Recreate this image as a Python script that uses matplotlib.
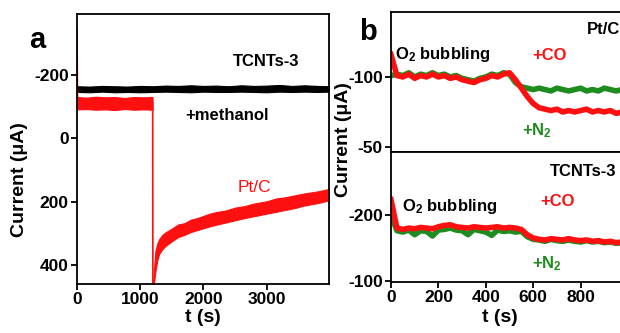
import matplotlib
matplotlib.use("Agg")
import matplotlib.pyplot as plt

plt.rcParams['font.family'] = ['Liberation Sans', 'DejaVu Sans']
plt.rcParams['font.weight'] = 'bold'
plt.rcParams['axes.unicode_minus'] = False
plt.rcParams['mathtext.fontset'] = 'custom'
plt.rcParams['mathtext.rm'] = 'Liberation Sans:bold'
plt.rcParams['mathtext.it'] = 'Liberation Sans:bold'
plt.rcParams['mathtext.bf'] = 'Liberation Sans:bold'

RED = '#ff1010'
GREEN = '#1e8c1e'

# ---- panel a data (current in uA, axis inverted) ----
a_black_t = [0, 200, 400, 600, 800, 1000, 1200, 1400, 1600, 1800, 2000, 2200,
             2400, 2600, 2800, 3000, 3200, 3400, 3600, 3800, 3985]
a_black_lo = [-164, -163, -165, -164, -163, -165, -164, -166, -165, -167, -165,
              -166, -164, -167, -165, -166, -168, -165, -167, -165, -164]
a_black_hi = [-146, -145, -147, -145, -146, -145, -146, -147, -146, -145, -147,
              -146, -146, -147, -146, -145, -147, -146, -147, -146, -147]

a_red_spike_t = [0, 8]
a_red_spike_v = [-345, -112]
a_red1_t = [5, 150, 300, 450, 600, 750, 900, 1050, 1195]
a_red1_lo = [-130, -128, -131, -129, -130, -127, -130, -129, -130]
a_red1_hi = [-91, -92, -90, -91, -89, -92, -90, -91, -90]
a_drop_t = [1197, 1200]
a_drop_v = [-112, 460]
a_red2_t = [1200, 1215, 1240, 1270, 1300, 1350, 1400, 1500, 1600, 1700, 1800,
            1900, 2000, 2100, 2200, 2350, 2500, 2650, 2800, 3000, 3150, 3300,
            3450, 3600, 3800, 3985]
a_red2_lo = [460, 420, 355, 332, 318, 305, 297, 285, 272, 268, 257,
             252, 245, 238, 233, 228, 219, 214, 206, 199, 190, 186,
             180, 174, 168, 160]
a_red2_hi = [460, 460, 420, 385, 365, 350, 340, 325, 312, 305, 296,
             290, 284, 278, 273, 266, 259, 252, 246, 238, 232, 226,
             220, 212, 205, 196]

# ---- panel b data, sampled every 25 s ----
b_t = list(range(0, 1001, 25))
b_top_red = [-116, -101, -100, -102, -99, -101, -100, -102, -100, -101, -99,
             -100, -98, -97, -96, -98, -99, -101, -100, -102, -103, -98,
             -92, -86, -81, -78, -77, -76, -77, -75, -76, -75, -76, -77,
             -75, -76, -75, -76, -74, -75, -75]
b_top_green = [-101, -102, -101, -103, -100, -102, -101, -103, -101, -102, -100,
               -101, -99, -98, -97, -99, -100, -102, -101, -103, -102, -96,
               -93, -92, -91, -92, -91, -90, -92, -91, -90, -91, -92, -90,
               -91, -90, -92, -91, -90, -91, -90]
b_bot_red = [-223, -180, -178, -180, -179, -181, -180, -179, -182, -184, -185,
             -182, -181, -180, -182, -181, -180, -181, -182, -180, -181, -180,
             -178, -170, -165, -163, -162, -164, -163, -162, -164, -162, -161,
             -162, -160, -161, -159, -160, -158, -159, -157]
b_bot_green = [-200, -176, -174, -177, -170, -176, -175, -168, -177, -178, -180,
               -177, -176, -170, -178, -176, -174, -169, -177, -175, -176, -174,
               -175, -167, -163, -162, -160, -163, -161, -160, -162, -160, -159,
               -161, -159, -160, -158, -159, -157, -158, -156]

W, H = 620, 333
fig = plt.figure(figsize=(W / 100, H / 100), dpi=100)


def box(l, t, r, b):
    return [l / W, 1 - b / H, (r - l) / W, (b - t) / H]


def px(x, y):
    return x / W, 1 - y / H


def style(ax):
    for s in ax.spines.values():
        s.set_linewidth(1.3)
    ax.tick_params(direction='out', length=4, width=1.3, labelsize=12.5, pad=2)


# panel a
ax = fig.add_axes(box(77, 14, 329, 284))
ax.fill_between(a_black_t, a_black_lo, a_black_hi, color='black', lw=0.8)
ax.plot(a_red_spike_t, a_red_spike_v, color=RED, lw=1.2)
ax.fill_between(a_red1_t, a_red1_lo, a_red1_hi, color=RED, lw=0.8)
ax.plot(a_drop_t, a_drop_v, color=RED, lw=1.2)
ax.fill_between(a_red2_t, a_red2_lo, a_red2_hi, color=RED, lw=0.8)
ax.set_xlim(0, 3985)
ax.set_ylim(460, -392)
ax.set_xticks([0, 1000, 2000, 3000])
ax.set_yticks([-200, 0, 200, 400])
style(ax)

# panel b top
bt = fig.add_axes(box(391, 12, 628, 152))
bt.plot(b_t, b_top_green, color=GREEN, lw=4)
bt.plot(b_t, b_top_red, color=RED, lw=4)
bt.set_xlim(0, 1000)
bt.set_ylim(-46.4, -146.4)
bt.set_yticks([-100, -50])
style(bt)
bt.tick_params(axis='x', bottom=False, labelbottom=False)

# panel b bottom
bb = fig.add_axes(box(391, 152, 628, 282))
bb.plot(b_t, b_bot_green, color=GREEN, lw=4)
bb.plot(b_t, b_bot_red, color=RED, lw=4)
bb.set_xlim(0, 1000)
bb.set_ylim(-98.5, -295)
bb.set_xticks([0, 200, 400, 600, 800])
bb.set_yticks([-200, -100])
style(bb)

# labels
fig.text(*px(20, 180), 'Current (\u03bcA)', rotation=90, ha='center', va='center', fontsize=14)
fig.text(*px(203, 318), 't (s)', ha='center', va='center', fontsize=14)
fig.text(*px(343, 140), 'Current (\u03bcA)', rotation=90, ha='center', va='center', fontsize=14)
fig.text(*px(500, 317), 't (s)', ha='center', va='center', fontsize=14)

fig.text(*px(37, 40), 'a', ha='center', va='center', fontsize=21)
fig.text(*px(368, 32), 'b', ha='center', va='center', fontsize=21)

fig.text(*px(233, 62), 'TCNTs-3', ha='left', va='center', fontsize=12)
fig.text(*px(185, 116), '+methanol', ha='left', va='center', fontsize=12)
fig.text(*px(238, 187), 'Pt/C', ha='left', va='center', fontsize=12.5, color=RED,
         fontweight='normal')

fig.text(*px(587, 29), 'Pt/C', ha='left', va='center', fontsize=12)
fig.text(*px(395, 55), r'O$_2$ bubbling', ha='left', va='center', fontsize=12)
fig.text(*px(532, 56), '+CO', ha='left', va='center', fontsize=12, color=RED)
fig.text(*px(522, 131), r'+N$_2$', ha='left', va='center', fontsize=12, color=GREEN)

fig.text(*px(550, 171), 'TCNTs-3', ha='left', va='center', fontsize=12)
fig.text(*px(540, 201), '+CO', ha='left', va='center', fontsize=12, color=RED)
fig.text(*px(402, 207), r'O$_2$ bubbling', ha='left', va='center', fontsize=12)
fig.text(*px(532, 264), r'+N$_2$', ha='left', va='center', fontsize=12, color=GREEN)

fig.savefig('out.png', dpi=100)
